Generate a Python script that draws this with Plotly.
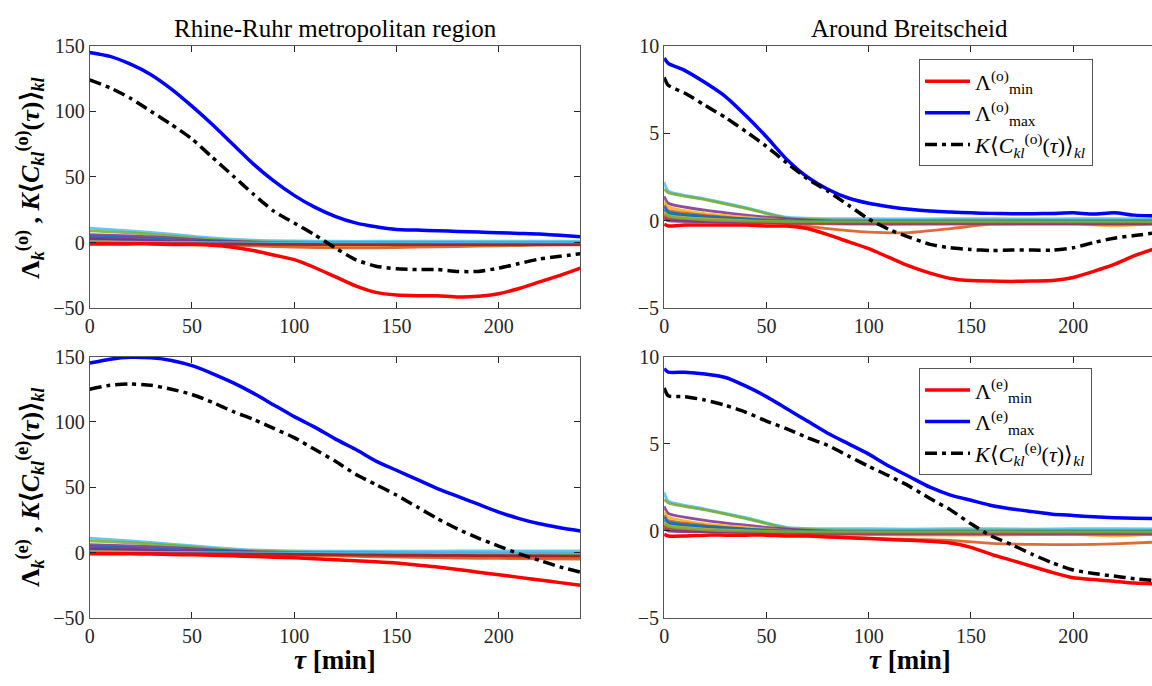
import plotly.graph_objects as go

# ---------------- data ----------------
TAU = [0, 10, 20, 30, 40, 50, 60, 70, 80, 90, 100, 110, 120, 130, 140, 150,
       160, 170, 180, 190, 200, 210, 220, 230, 240]
TAU_R = [0, 2, 10, 20, 30, 40, 50, 60, 70, 80, 90, 100, 110, 120, 130, 140, 150,
         160, 170, 180, 190, 200, 210, 220, 230, 240]
TAU_C = [0, 20, 40, 60, 80, 100, 120, 140, 160, 180, 200, 220, 240]
TAU_CR = [0, 2, 20, 40, 60, 80, 100, 120, 140, 160, 180, 200, 220, 240]

# Rhine-Ruhr, (o)
rr_o_max = [145, 142, 136, 128, 117, 104, 90, 75, 60, 47, 36, 27, 20, 15, 12, 10,
            9.5, 9, 8.5, 8, 7.5, 7, 6.5, 5.5, 4.5]
rr_o_min = [-1, -1, -1, -1, -1.5, -1.5, -2, -3.5, -6, -9.5, -13, -19, -26, -33, -38, -40,
            -40.5, -40.5, -41.5, -41, -39, -35, -30, -25, -19.5]
rr_o_mean = [124, 118, 110, 100, 90, 79, 65, 51, 37, 24, 15, 6, -4, -13, -18, -20,
             -20.5, -20.5, -22, -22, -19.5, -16, -12.5, -10.5, -8.5]
rr_o_others = [
    [11, 9, 6.5, 3.5, 1.8, 1.2, 1.0, 1.0, 1.0, 1.0, 1.0, 1.0, 1.0],
    [9, 7.5, 5, 2.5, 0.8, 0.3, 0.2, 0.2, 0.2, 0.1, 0.1, 0, 0],
    [6, 5, 3.5, 1.5, 0.3, -0.3, -0.5, -0.5, -0.5, -0.5, -0.5, -0.5, -0.5],
    [4.5, 3.5, 2, 0.8, 0, -0.5, -0.8, -0.8, -0.8, -0.8, -0.8, -0.8, -0.8],
    [3, 2.2, 1, -0.3, -1.5, -2.5, -3, -2.8, -2.2, -1.8, -1.5, -1.3, -1.2],
    [2, 1.2, 0, -1.2, -2.5, -3.5, -4, -4, -3.5, -3, -2.5, -2, -1.8],
    [1.5, 1, 0.2, -0.5, -1, -1.2, -1.3, -1.3, -1.3, -1.3, -1.2, -1.2, -1.2],
    [2.5, 1.8, 0.8, 0, -0.6, -0.9, -1, -1, -1, -1, -1, -1, -1],
    [1, 0.6, 0, -0.5, -1, -1.3, -1.5, -1.5, -1.4, -1.3, -1.2, -1.2, -1.2],
    [0.5, 0.2, -0.2, -0.6, -0.9, -1.1, -1.2, -1.2, -1.2, -1.2, -1.2, -1.2, -1.2],
    [3.5, 2.5, 1.2, 0.3, -0.3, -0.6, -0.7, -0.7, -0.7, -0.7, -0.7, -0.7, -0.7],
    [0, -0.2, -0.4, -0.6, -0.8, -0.9, -1, -1, -1, -1, -1, -1, -1],
    [0.5, 0.3, 0.1, 0, -0.2, -0.3, -0.3, -0.3, -0.3, -0.3, -0.3, -0.3, -0.3],
    [-0.5, -0.6, -0.8, -1, -1.2, -1.4, -1.5, -1.5, -1.5, -1.5, -1.5, -1.5, -1.5],
]

# Breitscheid, (o)
br_o_max = [9.3, 9.0, 8.6, 7.9, 7.1, 6.0, 4.8, 3.5, 2.5, 1.8, 1.3, 1.0, 0.8, 0.65, 0.55,
            0.5, 0.45, 0.42, 0.4, 0.4, 0.42, 0.45, 0.38, 0.45, 0.32, 0.28]
br_o_min = [-0.2, -0.3, -0.25, -0.25, -0.25, -0.25, -0.3, -0.3, -0.45, -0.8, -1.2, -1.6,
            -2.1, -2.6, -3.0, -3.3, -3.42, -3.45, -3.47, -3.45, -3.42, -3.25, -2.9, -2.5,
            -2.0, -1.6]
br_o_mean = [8.2, 7.75, 7.3, 6.6, 5.9, 5.1, 4.25, 3.3, 2.4, 1.7, 0.9, 0.1, -0.5, -0.95,
             -1.35, -1.55, -1.65, -1.7, -1.68, -1.68, -1.68, -1.55, -1.25, -1.0, -0.85, -0.7]
br_o_others = [
    [2.2, 1.7, 1.25, 0.75, 0.2, 0.12, 0.12, 0.1, 0.12, 0.12, 0.1, 0.12, 0.12, 0.1],
    [1.8, 1.6, 1.2, 0.7, 0.15, 0.05, 0.02, 0.02, 0.03, 0.03, 0.03, 0.02, 0.02, 0.02],
    [1.4, 1.0, 0.6, 0.32, 0.1, -0.02, -0.05, -0.05, -0.05, -0.05, -0.05, -0.05, -0.05, -0.05],
    [0.6, 0.4, 0.15, 0.05, -0.05, -0.1, -0.1, -0.1, -0.1, -0.1, -0.1, -0.1, -0.1, -0.1],
    [1.1, 0.8, 0.4, 0.2, 0.0, -0.12, -0.18, -0.2, -0.18, -0.15, -0.15, -0.15, -0.3, -0.15],
    [0.9, 0.6, 0.3, 0.1, -0.15, -0.45, -0.65, -0.68, -0.45, -0.2, -0.18, -0.18, -0.2, -0.2],
    [0.3, 0.15, 0.0, -0.05, -0.1, -0.12, -0.12, -0.12, -0.12, -0.12, -0.12, -0.12, -0.12, -0.12],
    [0.8, 0.5, 0.25, 0.1, 0.0, -0.03, -0.03, -0.03, -0.03, -0.03, -0.03, -0.03, -0.03, -0.03],
    [0.2, 0.05, -0.05, -0.1, -0.15, -0.18, -0.2, -0.2, -0.2, -0.2, -0.2, -0.2, -0.2, -0.2],
    [0.5, 0.3, 0.1, 0.0, -0.08, -0.08, -0.08, -0.08, -0.08, -0.08, -0.08, -0.08, -0.08, -0.08],
    [0.1, 0.0, -0.05, -0.08, -0.12, -0.14, -0.15, -0.15, -0.15, -0.15, -0.15, -0.15, -0.15, -0.15],
    [0.4, 0.25, 0.05, -0.02, -0.06, -0.07, -0.07, -0.07, -0.07, -0.07, -0.07, -0.07, -0.07, -0.07],
]

# Rhine-Ruhr, (e)
rr_e_max = [145, 148, 149.5, 149, 147, 143, 137, 130, 122, 113, 104, 96, 87, 79, 70, 63,
            56, 49, 43, 37, 31, 26, 22, 19, 16.5]
rr_e_min = [-1, -1, -1, -1.2, -1.5, -1.7, -2, -2.5, -3, -3.5, -4, -4.7, -5.5, -6.2, -7, -8,
            -9.5, -11, -13, -15, -17, -19, -21, -23, -25]
rr_e_mean = [125, 128, 129, 128, 125, 121, 115, 108, 102, 95, 88, 79, 70, 60, 52, 44,
             35, 26, 18, 11, 5, -1, -6, -11, -15]
rr_e_others = [
    [11, 9, 6.5, 4, 2, 1.2, 1, 1, 1, 1.2, 1.3, 1.3, 1.3],
    [9, 7.5, 5.5, 3, 1.2, 0.5, 0.2, 0, -0.2, -0.3, -0.4, -0.5, -0.5],
    [6, 5, 3.8, 2, 0.6, 0, -0.3, -0.5, -0.6, -0.8, -1, -1.2, -1.3],
    [4.5, 3.5, 2.2, 1, 0.2, -0.3, -0.6, -0.8, -1, -1.2, -1.4, -1.5, -1.6],
    [3, 2.3, 1.2, 0, -1, -1.6, -2.2, -2.8, -3.2, -3.6, -3.8, -4, -4],
    [2, 1.4, 0.5, -0.5, -1.3, -2, -2.6, -3.2, -3.7, -4.2, -4.5, -4.8, -5],
    [1.5, 1, 0.3, -0.3, -0.8, -1.2, -1.5, -1.8, -2, -2.2, -2.4, -2.5, -2.6],
    [2.5, 1.8, 0.9, 0.1, -0.5, -0.8, -1, -1.1, -1.2, -1.3, -1.4, -1.5, -1.5],
    [1, 0.6, 0.1, -0.4, -0.8, -1.1, -1.3, -1.5, -1.6, -1.8, -2, -2.1, -2.2],
    [0.5, 0.2, -0.2, -0.5, -0.8, -1, -1.1, -1.2, -1.3, -1.4, -1.5, -1.6, -1.7],
    [3.5, 2.6, 1.4, 0.4, -0.2, -0.5, -0.6, -0.7, -0.8, -0.9, -1, -1.1, -1.2],
    [0, -0.2, -0.4, -0.6, -0.8, -0.9, -1, -1.1, -1.2, -1.3, -1.4, -1.5, -1.6],
    [0.5, 0.3, 0.1, 0, -0.2, -0.3, -0.3, -0.3, -0.3, -0.3, -0.3, -0.3, -0.3],
    [-0.5, -0.6, -0.8, -1, -1.2, -1.4, -1.6, -1.8, -2, -2.2, -2.4, -2.6, -2.8],
]

# Breitscheid, (e)
br_e_max = [9.3, 9.1, 9.1, 9.0, 8.8, 8.3, 7.7, 7.0, 6.3, 5.6, 5.0, 4.4, 3.7, 3.1, 2.5,
            2.05, 1.75, 1.45, 1.25, 1.1, 0.95, 0.88, 0.8, 0.75, 0.72, 0.7]
br_e_min = [-0.2, -0.3, -0.3, -0.25, -0.25, -0.25, -0.25, -0.3, -0.3, -0.35, -0.4, -0.45,
            -0.5, -0.55, -0.6, -0.7, -0.95, -1.35, -1.7, -2.05, -2.4, -2.7, -2.8, -2.9,
            -3.0, -3.05]
br_e_mean = [8.2, 7.75, 7.7, 7.5, 7.2, 6.8, 6.3, 5.85, 5.35, 4.9, 4.3, 3.7, 3.15, 2.55,
             1.85, 1.2, 0.4, -0.3, -0.8, -1.35, -1.85, -2.25, -2.45, -2.6, -2.75, -2.85]
br_e_others = [
    [2.2, 1.7, 1.25, 0.75, 0.2, 0.12, 0.12, 0.1, 0.12, 0.12, 0.1, 0.12, 0.12, 0.1],
    [1.8, 1.6, 1.2, 0.7, 0.15, 0.05, 0.02, 0.02, 0.03, 0.03, 0.03, 0.02, 0.02, 0.02],
    [1.4, 1.0, 0.6, 0.32, 0.1, -0.02, -0.05, -0.05, -0.05, -0.05, -0.05, -0.05, -0.05, -0.05],
    [0.6, 0.4, 0.15, 0.05, -0.05, -0.1, -0.1, -0.1, -0.1, -0.1, -0.1, -0.1, -0.1, -0.1],
    [1.1, 0.8, 0.4, 0.2, 0.0, -0.15, -0.22, -0.25, -0.25, -0.25, -0.22, -0.2, -0.3, -0.2],
    [0.9, 0.6, 0.3, 0.1, -0.1, -0.3, -0.42, -0.5, -0.55, -0.72, -0.78, -0.8, -0.75, -0.65],
    [0.3, 0.15, 0.0, -0.05, -0.1, -0.12, -0.12, -0.12, -0.12, -0.12, -0.12, -0.12, -0.12, -0.12],
    [0.8, 0.5, 0.25, 0.1, 0.0, -0.03, -0.03, -0.03, -0.03, -0.03, -0.03, -0.03, -0.03, -0.03],
    [0.2, 0.05, -0.05, -0.1, -0.15, -0.18, -0.2, -0.2, -0.2, -0.2, -0.2, -0.2, -0.2, -0.2],
    [0.5, 0.3, 0.1, 0.0, -0.08, -0.08, -0.08, -0.08, -0.08, -0.08, -0.08, -0.08, -0.08, -0.08],
    [0.1, 0.0, -0.05, -0.08, -0.12, -0.14, -0.15, -0.15, -0.15, -0.15, -0.15, -0.15, -0.15, -0.15],
    [0.4, 0.25, 0.05, -0.02, -0.06, -0.07, -0.07, -0.07, -0.07, -0.07, -0.07, -0.07, -0.07, -0.07],
]

TITLES = ["Rhine-Ruhr metropolitan region", "Around Breitscheid"]
X_TICKS = [0, 50, 100, 150, 200]
Y_TICKS_RR = [-50, 0, 50, 100, 150]
Y_TICKS_BR = [-5, 0, 5, 10]

MATLAB_COLORS = ["#4DBEEE", "#77AC30", "#7E2F8E", "#0072BD", "#EDB120", "#D95319",
                 "#A2142F", "#0072BD", "#D95319", "#EDB120", "#7E2F8E", "#77AC30",
                 "#4DBEEE", "#A2142F"]

# ---------------- figure ----------------
W, H = 1152, 686
FONT = "Liberation Serif"
AX = "#262626"


def px(p):
    return p / W


def py(p):
    return 1 - p / H


# axis geometry (pixels from top-left)
L0, L1 = 85, 578
R0, R1 = 662, 1155
T0, T1 = 36, 307
B0, B1 = 357, 627
xl = (px(L0), px(L1))
xr = (px(R0), 1.0)
yt = (py(T1), py(T0))
yb = (py(B1), py(B0))
xr_max = 240 * (W - R0) / (R1 - R0)

fig = go.Figure()

panels = [
    dict(xa="x", ya="y", tau=TAU, tc=TAU_C, mx=rr_o_max, mn=rr_o_min, me=rr_o_mean,
         oth=rr_o_others, leg=None, sup="o"),
    dict(xa="x2", ya="y2", tau=TAU_R, tc=TAU_CR, mx=br_o_max, mn=br_o_min, me=br_o_mean,
         oth=br_o_others, leg="legend", sup="o"),
    dict(xa="x3", ya="y3", tau=TAU, tc=TAU_C, mx=rr_e_max, mn=rr_e_min, me=rr_e_mean,
         oth=rr_e_others, leg=None, sup="e"),
    dict(xa="x4", ya="y4", tau=TAU_R, tc=TAU_CR, mx=br_e_max, mn=br_e_min, me=br_e_mean,
         oth=br_e_others, leg="legend2", sup="e"),
]

for p in panels:
    for i, series in enumerate(p["oth"]):
        fig.add_trace(go.Scatter(
            x=p["tc"], y=series, mode="lines", xaxis=p["xa"], yaxis=p["ya"],
            line=dict(color=MATLAB_COLORS[i % len(MATLAB_COLORS)], width=2.8,
                      shape="spline", smoothing=0.6),
            opacity=0.85, showlegend=False, hoverinfo="skip"))
    s = p["sup"]
    show = p["leg"] is not None
    common = dict(xaxis=p["xa"], yaxis=p["ya"], mode="lines", showlegend=show)
    if show:
        common["legend"] = p["leg"]
    fig.add_trace(go.Scatter(x=p["tau"], y=p["mn"],
                             name=f"Λ<sup>({s})</sup><sub>min</sub>",
                             line=dict(color="#FF0000", width=3.5, shape="spline",
                                       smoothing=0.6), **common))
    fig.add_trace(go.Scatter(x=p["tau"], y=p["mx"],
                             name=f"Λ<sup>({s})</sup><sub>max</sub>",
                             line=dict(color="#0000FF", width=3.5, shape="spline",
                                       smoothing=0.6), **common))
    fig.add_trace(go.Scatter(x=p["tau"], y=p["me"],
                             name=f"<i>K</i>⟨<i>C</i><sub><i>kl</i></sub><sup>({s})</sup>(<i>τ</i>)⟩<sub><i>kl</i></sub>",
                             line=dict(color="#000000", width=3.5, dash="12px,5px,4px,5px",
                                       shape="spline", smoothing=0.6), **common))

tickfont = dict(family=FONT, size=20, color=AX)
base_x = dict(range=[0, 240], tickvals=X_TICKS, ticks="inside", ticklen=6,
              tickcolor=AX, showline=True, linecolor="#555555", linewidth=1,
              mirror="allticks", showgrid=False, zeroline=False, tickfont=tickfont)
base_y = dict(ticks="inside", ticklen=6, tickcolor=AX, showline=True,
              linecolor="#555555", linewidth=1, mirror="allticks", showgrid=False,
              zeroline=False, tickfont=tickfont)

legend_style = dict(xanchor="left", yanchor="top", bgcolor="white",
                    bordercolor="#555555", borderwidth=1,
                    font=dict(family=FONT, size=22, color="#000000"), itemwidth=45,
                    tracegroupgap=0)

fig.update_layout(
    width=W, height=H, margin=dict(l=0, r=0, t=0, b=0),
    paper_bgcolor="white", plot_bgcolor="white",
    font=dict(family=FONT, color=AX),
    xaxis=dict(base_x, domain=xl, anchor="y"),
    yaxis=dict(base_y, domain=yt, anchor="x", range=[-50, 150], tickvals=Y_TICKS_RR),
    xaxis2=dict(base_x, domain=xr, anchor="y2", range=[0, xr_max]),
    yaxis2=dict(base_y, domain=yt, anchor="x2", range=[-5, 10], tickvals=Y_TICKS_BR,
                mirror=False),
    xaxis3=dict(base_x, domain=xl, anchor="y3"),
    yaxis3=dict(base_y, domain=yb, anchor="x3", range=[-50, 150], tickvals=Y_TICKS_RR),
    xaxis4=dict(base_x, domain=xr, anchor="y4", range=[0, xr_max]),
    yaxis4=dict(base_y, domain=yb, anchor="x4", range=[-5, 10], tickvals=Y_TICKS_BR,
                mirror=False),
    legend=dict(legend_style, x=px(918), y=py(50)),
    legend2=dict(legend_style, x=px(918), y=py(369)),
)

ann = []
# column titles
for t, xc in [(TITLES[0], px((L0 + L1) / 2)), (TITLES[1], px((R0 + R1) / 2))]:
    ann.append(dict(text=t, x=xc, y=py(18), xref="paper", yref="paper",
                    showarrow=False, xanchor="center", yanchor="middle",
                    font=dict(family=FONT, size=25, color="#000000")))
# y titles
for s, ymid in [("o", (yt[0] + yt[1]) / 2), ("e", (yb[0] + yb[1]) / 2)]:
    ann.append(dict(
        text=f"<b>Λ<sub><i>k</i></sub><sup>({s})</sup> , <i>K</i>⟨<i>C</i><sub><i>kl</i></sub><sup>({s})</sup>(<i>τ</i>)⟩<sub><i>kl</i></sub></b>",
        x=px(25), y=ymid, xref="paper", yref="paper", textangle=-90, showarrow=False,
        xanchor="center", yanchor="middle",
        font=dict(family=FONT, size=26, color="#000000")))
# x titles
for xc in [px((L0 + L1) / 2), px((R0 + R1) / 2)]:
    ann.append(dict(text="<b><i>τ</i> [min]</b>", x=xc, y=py(670), xref="paper",
                    yref="paper", showarrow=False, xanchor="center", yanchor="middle",
                    font=dict(family=FONT, size=27, color="#000000")))
fig.update_layout(annotations=ann)

fig.write_html("out.html")
